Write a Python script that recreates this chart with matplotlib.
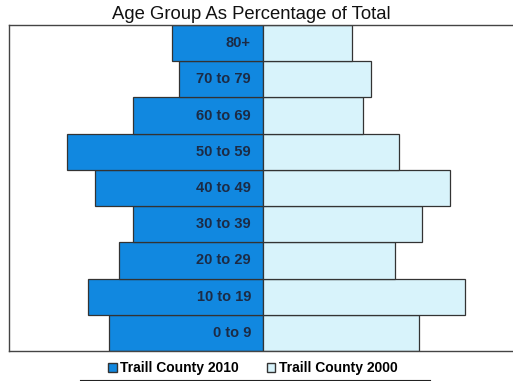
import matplotlib as mpl
mpl.use('Agg')
import matplotlib.pyplot as plt
from matplotlib.patches import Patch
import numpy as np

plt.rcParams['font.family'] = ['Liberation Sans', 'DejaVu Sans']

age_groups = ['0 to 9', '10 to 19', '20 to 29', '30 to 39', '40 to 49',
              '50 to 59', '60 to 69', '70 to 79', '80+']
pct_2010 = [12.1, 13.8, 11.3, 10.2, 13.2, 15.4, 10.2, 6.6, 7.2]
pct_2000 = [12.3, 15.9, 10.4, 12.5, 14.7, 10.7, 7.9, 8.5, 7.0]

c2010 = '#1188e0'
c2000 = '#d8f3fb'
edge = '#333333'

fig = plt.figure(figsize=(5.13, 3.81), dpi=100)
ax = fig.add_axes([9/513., 30/381., 508/513., 326/381.])

y = np.arange(len(age_groups))
ax.barh(y, -np.array(pct_2010), height=1.0, color=c2010, edgecolor=edge, linewidth=0.9)
ax.barh(y, pct_2000, height=1.0, color=c2000, edgecolor=edge, linewidth=0.9)

# age labels sit inside the 2010 bars, right aligned against the centre line
for yi, lab in zip(y, age_groups):
    ax.text(-0.95, yi, lab, ha='right', va='center', fontsize=10.5,
            fontweight='bold', color='#1c2b45')

ax.set_xlim(-20, 20)
ax.set_ylim(-0.5, len(age_groups) - 0.5)
ax.set_xticks([])
ax.set_yticks([])
for s in ['left', 'top', 'bottom']:
    ax.spines[s].set_color('#444444')
    ax.spines[s].set_linewidth(1.0)
ax.spines['right'].set_visible(False)

fig.text(0.49, 0.962, 'Age Group As Percentage of Total', ha='center', va='center',
         fontsize=13.3, color='#111111')

handles = [Patch(facecolor=c2010, edgecolor=edge, label='Traill County 2010'),
           Patch(facecolor=c2000, edgecolor=edge, label='Traill County 2000')]
fig.legend(handles=handles, loc='center', bbox_to_anchor=(0.493, 0.034), ncol=2,
           frameon=False, handlelength=0.6, handleheight=0.6, handletextpad=0.25,
           columnspacing=2.0, prop={'weight': 'bold', 'size': 10})

fig.add_artist(plt.Line2D([80/513., 430/513.], [1.5/381., 1.5/381.],
                          color='#222222', linewidth=0.8))

fig.savefig('out.png', dpi=100)
